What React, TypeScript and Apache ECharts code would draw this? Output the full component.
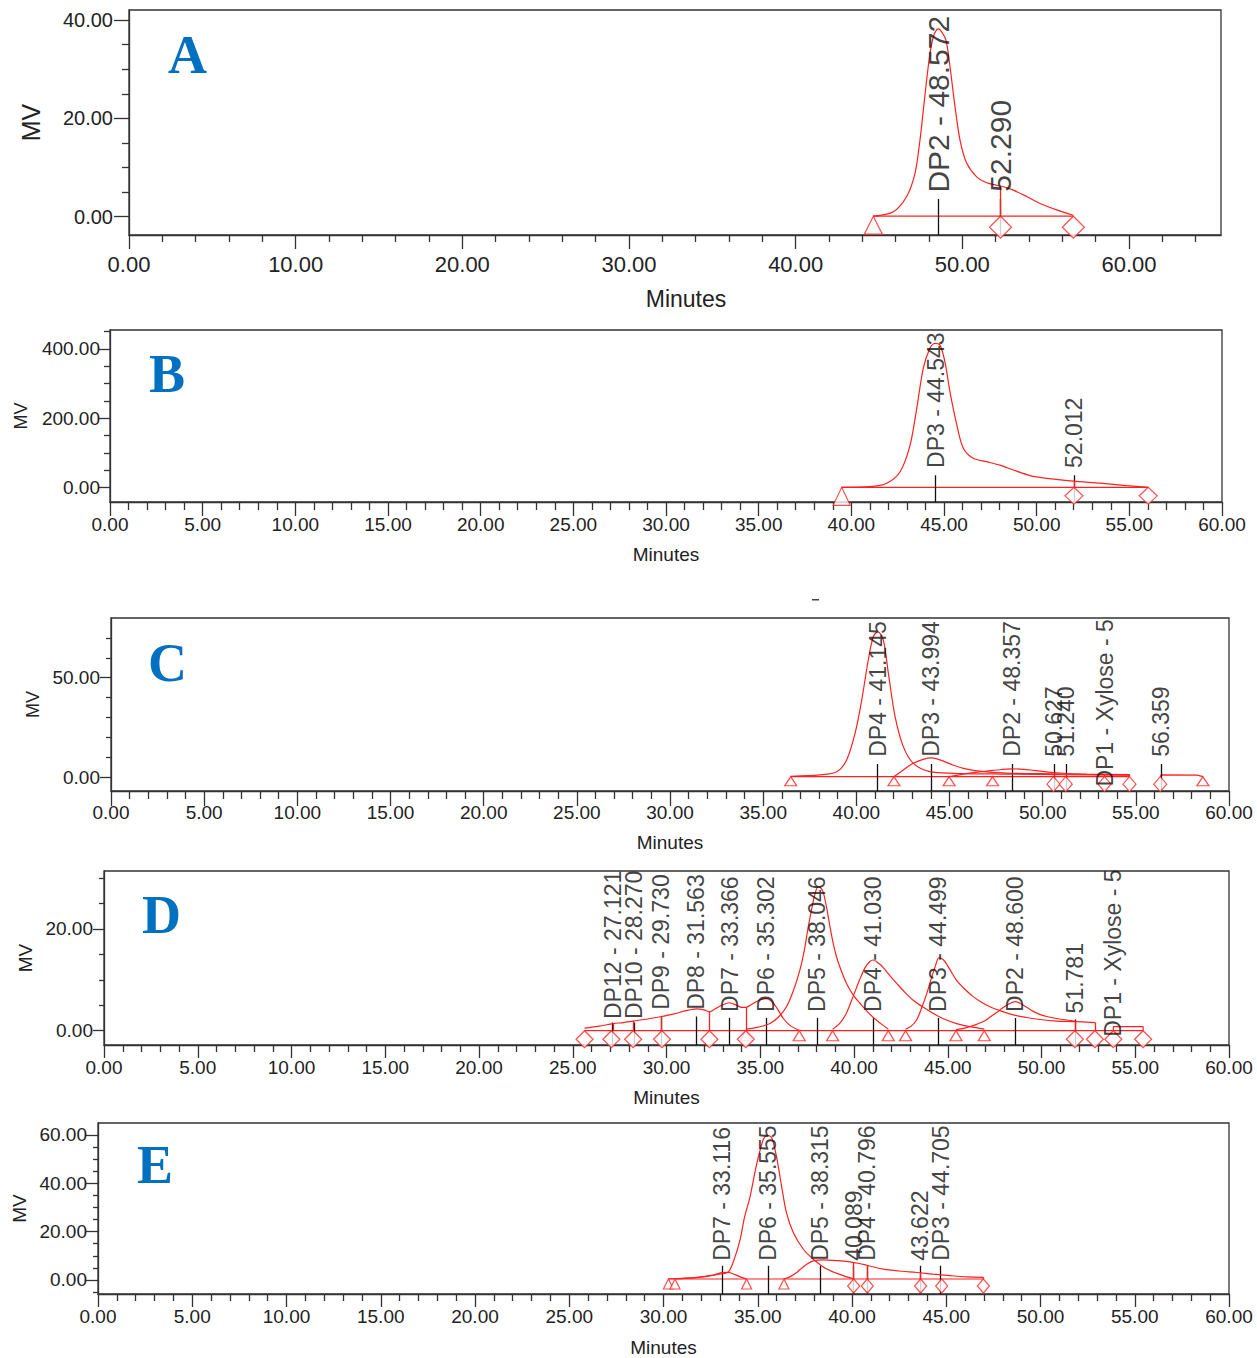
import React, { useEffect, useRef } from 'react';
import * as echarts from 'echarts';

type Pt = [number, number];

const RED = '#ff2020';
const AXIS = '#333333';
const TXT = '#222222';
const SANS = 'Liberation Sans';

// ---------------- Panel A ----------------
const A_xMajor = [0, 10, 20, 30, 40, 50, 60];
const A_yMajor = [0, 20, 40];
const A_yMinor = [5, 10, 15, 25, 30, 35];
const A_trace: Pt[] = [[44.66, 0.1], [45.86, 1.0], [46.66, 4.1], [47.16, 8.8], [47.46, 15.6], [47.66, 21.7], [47.86, 27.8], [48.06, 33.2], [48.26, 36.6], [48.45, 38.0], [48.57, 38.2], [48.76, 37.6], [49.02, 35.9], [49.26, 30.5], [49.56, 22.4], [49.86, 15.6], [50.26, 10.9], [50.86, 8.1], [51.46, 6.9], [52.06, 6.4], [52.46, 6.1], [53.06, 5.4], [53.86, 4.1], [54.66, 2.7], [55.66, 1.4], [56.66, 0.3]];
const A_baseline: Pt[] = [[44.66, 0.1], [56.66, 0.1]];
const A_triangles = [44.66];
const A_diamonds = [52.29, 56.66];
const A_dropX = [52.29];
const A_dropTop = [6.1];
const A_peakX = [48.572, 52.29];
const A_peakName = ['DP2 - 48.572', '52.290'];
const A_peakLabelY = [4.9, 5.1];
const A_peakTickTop = [3.6, 3.6];

// ---------------- Panel B ----------------
const B_xMajor = [0, 5, 10, 15, 20, 25, 30, 35, 40, 45, 50, 55, 60];
const B_yMajor = [0, 200, 400];
const B_yMinor = [50, 100, 150, 250, 300, 350, 450];
const B_trace: Pt[] = [[39.48, 1.2], [41.01, 2.9], [41.91, 12.7], [42.63, 46], [43.17, 123], [43.53, 229], [43.88, 344], [44.24, 402], [44.51, 416], [44.78, 411], [45.05, 363], [45.32, 277], [45.69, 181], [46.04, 114], [46.58, 85], [47.3, 75], [48.02, 65], [48.74, 51], [49.64, 35], [50.54, 27], [51.98, 19], [53.42, 13], [54.86, 6], [56.02, 1.2]];
const B_baseline: Pt[] = [[39.48, 1.2], [56.02, 1.2]];
const B_triangles = [39.48];
const B_diamonds = [52.012, 56.02];
const B_dropX = [52.012];
const B_dropTop = [19];
const B_peakX = [44.543, 52.012];
const B_peakName = ['DP3 - 44.543', '52.012'];
const B_peakLabelY = [57, 57];
const B_peakTickTop = [36, 36];

// ---------------- Panel C ----------------
const C_xMajor = B_xMajor;
const C_yMajor = [0, 50];
const C_yMinor = [10, 20, 30, 40, 60, 70];
const C_dp4: Pt[] = [[36.48, 0.5], [38.05, 1.2], [38.95, 2.8], [39.48, 8.7], [39.93, 22], [40.29, 38.8], [40.64, 58.9], [40.91, 70.6], [41.16, 73.1], [41.45, 68.9], [41.72, 52.2], [42.08, 30.4], [42.52, 15.4], [43.06, 7.0], [43.95, 2.8], [45.2, 2.0], [47.9, 1.6], [51.0, 1.3], [54.66, 1.1]];
const C_dp3: Pt[] = [[42.02, 0.3], [42.52, 3.7], [43.06, 7.0], [43.59, 9.0], [44.04, 9.7], [44.49, 8.7], [45.03, 6.7], [45.74, 4.5], [46.82, 2.8], [48.25, 2.0], [50.57, 1.7], [52.5, 1.4], [54.66, 1.2]];
const C_dp2: Pt[] = [[44.98, 0.3], [45.74, 1.6], [46.5, 2.6], [47.17, 3.3], [47.8, 3.9], [48.34, 4.2], [49.0, 4.0], [49.5, 3.5], [50.57, 2.4], [51.3, 1.9], [52.36, 1.6], [54.66, 1.3]];
const C_baseline: Pt[] = [[36.48, 0.3], [54.66, 0.3]];
const C_seg56: Pt[] = [[56.31, 0.3], [56.36, 1.2], [58.3, 1.1], [58.6, 0.3]];
const C_triangles = [36.48, 42.02, 44.98, 47.31, 58.6];
const C_diamonds = [50.58, 51.24, 53.32, 54.66, 56.31];
const C_dropX = [50.627, 51.24, 53.32, 54.66];
const C_dropTop = [1.9, 1.7, 1.4, 1.2];
const C_peakX = [41.145, 43.994, 48.357, 50.627, 51.24, 53.32, 56.359];
const C_peakName = ['DP4 - 41.145', 'DP3 - 43.994', 'DP2 - 48.357', '50.627', '51.240', 'DP1 - Xylose - 5', '56.359'];
const C_peakLabelY = [10.3, 10.3, 10.3, 10.3, 10.3, -4.7, 10.3];
const C_peakTickTop = [6.7, 6.7, 6.7, 6.7, 6.7, null, 6.7];

// ---------------- Panel D ----------------
const D_xMajor = B_xMajor;
const D_yMajor = [0, 20];
const D_yMinor = [5, 10, 15, 25, 30];
const D_trace: Pt[] = [[25.63, 0.5], [26.4, 0.9], [27.16, 1.4], [27.7, 1.6], [28.23, 1.9], [29.0, 2.3], [29.74, 2.8], [30.4, 3.3], [31.0, 3.9], [31.6, 4.3], [32.0, 4.1], [32.28, 3.7], [32.6, 4.3], [32.95, 5.0], [33.35, 5.5], [33.74, 5.0], [34.0, 4.6], [34.24, 4.6], [34.6, 5.3], [34.95, 6.0], [35.31, 6.3], [35.6, 5.8], [35.9, 4.4], [36.23, 2.4], [36.6, 1.0], [37.08, 0.1]];
const D_dp5: Pt[] = [[34.24, 0.3], [34.9, 0.7], [35.52, 1.4], [36.0, 2.8], [36.4, 4.7], [36.8, 8.2], [37.12, 12], [37.35, 15.8], [37.56, 20.4], [37.8, 25], [37.95, 27.3], [38.08, 28.3], [38.2, 28.2], [38.36, 27.2], [38.55, 24], [38.72, 20.4], [38.9, 17], [39.07, 14.5], [39.3, 12], [39.6, 9.3], [40.0, 6.8], [40.32, 5.4], [40.7, 3.8], [41.03, 2.6], [41.5, 1.2], [41.83, 0.3]];
const D_dp4: Pt[] = [[38.86, 0.3], [39.25, 1.5], [39.6, 3.5], [39.96, 6.8], [40.3, 10], [40.59, 12.4], [40.85, 13.6], [41.03, 13.9], [41.3, 13.3], [41.56, 12.4], [41.9, 10.9], [42.28, 9.3], [42.7, 7.6], [43.16, 6.0], [43.7, 4.6], [44.23, 3.4], [44.8, 2.3], [45.47, 1.4], [46.2, 0.8], [46.95, 0.3]];
const D_dp3: Pt[] = [[42.75, 0.3], [43.05, 0.9], [43.34, 2.1], [43.6, 4.4], [43.88, 7.3], [44.1, 10], [44.32, 12.5], [44.53, 14.3], [44.75, 14], [44.94, 13.1], [45.2, 11.5], [45.47, 9.9], [45.9, 8.2], [46.36, 6.7], [46.8, 5.6], [47.25, 4.7], [47.9, 3.8], [48.5, 3.1], [49.2, 2.6], [49.92, 2.2], [50.8, 1.9], [51.7, 1.8], [52.85, 1.6]];
const D_dp2: Pt[] = [[45.44, 0.2], [46.0, 0.6], [46.5, 1.2], [46.95, 1.9], [47.3, 2.8], [47.61, 3.6], [47.9, 4.4], [48.14, 5.0], [48.4, 5.5], [48.6, 5.7], [48.8, 5.5], [49.03, 5.0], [49.3, 4.4], [49.56, 3.8], [49.9, 3.2], [50.28, 2.8], [50.8, 2.4], [51.34, 2.1], [51.78, 1.9]];
const D_baseline: Pt[] = [[25.63, 0], [55.42, 0]];
const D_segDP1: Pt[] = [[53.83, 0], [53.83, 0.8], [55.42, 0.8], [55.42, 0]];
const D_triangles = [34.24, 37.08, 38.86, 41.83, 42.75, 45.44, 46.95];
const D_diamonds = [25.63, 27.06, 28.22, 29.76, 32.29, 34.23, 51.78, 52.85, 53.83, 55.42];
const D_dropX = [27.16, 28.23, 29.74, 32.28, 34.24, 51.78, 52.85];
const D_dropTop = [1.4, 1.9, 2.8, 3.7, 4.6, 1.9, 1.6];
const D_peakX = [27.121, 28.27, 29.73, 31.563, 33.366, 35.302, 38.046, 41.03, 44.499, 48.6, 51.781, 53.83];
const D_peakName = ['DP12 - 27.121', 'DP10 - 28.270', 'DP9 - 29.730', 'DP8 - 31.563', 'DP7 - 33.366', 'DP6 - 35.302', 'DP5 - 38.046', 'DP4 - 41.030', 'DP3 - 44.499', 'DP2 - 48.600', '51.781', 'DP1 - Xylose - 5'];
const D_peakLabelY = [2.3, 2.3, 4.1, 4.1, 3.7, 3.7, 3.7, 3.7, 3.7, 3.7, 3.4, -1.2];
const D_peakTickTop = [1.6, 1.6, 2.8, 2.8, 2.5, 2.5, 2.5, 2.5, 2.5, 2.5, 2.2, null];

// ---------------- Panel E ----------------
const E_xMajor = B_xMajor;
const E_yMajor = [0, 20, 40, 60];
const E_yMinor = [-5, 5, 10, 15, 25, 30, 35, 45, 50, 55];
const E_dp7: Pt[] = [[30.26, 0.5], [31.0, 0.7], [31.9, 1.1], [32.6, 2.0], [33.09, 3.0], [33.44, 3.1], [33.8, 2.2], [34.1, 1.2], [34.41, 0.4]];
const E_dp6: Pt[] = [[30.61, 0.5], [31.5, 0.9], [32.4, 1.6], [33.0, 2.5], [33.44, 3.3], [33.75, 8.5], [34.06, 16.6], [34.3, 26], [34.59, 34.4], [34.94, 47.8], [35.29, 58], [35.51, 59.8], [35.74, 58.8], [36.0, 50.8], [36.27, 38.5], [36.53, 27.6], [36.89, 19.5], [37.42, 12.7], [37.95, 8.6], [38.66, 4.5], [39.54, 1.8], [40.1, 0.4]];
const E_dp5: Pt[] = [[36.39, 0.4], [36.75, 1.5], [37.07, 3.1], [37.35, 5], [37.6, 6.5], [37.95, 7.9], [38.48, 8.3], [39.2, 8.0], [39.89, 7.5], [40.4, 6.8], [40.78, 6.1], [41.66, 4.5], [42.5, 3.7], [43.43, 3.1], [44.3, 2.4], [45.2, 1.8], [46.1, 1.3], [46.97, 1.1]];
const E_baseline: Pt[] = [[30.26, 0.4], [46.97, 0.4]];
const E_triangles = [30.26, 30.61, 34.41, 36.39];
const E_diamonds = [40.09, 40.81, 43.64, 44.76, 46.97];
const E_dropX = [40.09, 40.81, 43.64, 46.97];
const E_dropTop = [7.3, 6.0, 3.0, 1.1];
const E_peakX = [33.116, 35.555, 38.315, 40.089, 40.796, 43.622, 44.705];
const E_peakName = ['DP7 - 33.116', 'DP6 - 35.555', 'DP5 - 38.315', '40.089', 'DP4 - 40.796', '43.622', 'DP3 - 44.705'];
const E_peakLabelY = [7.9, 7.9, 7.9, 7.9, 7.9, 7.9, 7.9];
const E_peakTickTop = [5.9, 5.9, 5.9, 5.9, 5.9, 5.9, 5.9];

const PANEL_LETTERS = ['A', 'B', 'C', 'D', 'E'];

function minorTicks(max: number, step: number, major: number): number[] {
  const out: number[] = [];
  for (let k = 1; k * step <= max + 1e-9; k++) {
    const v = +(k * step).toFixed(4);
    if (Math.abs(v / major - Math.round(v / major)) > 1e-6) out.push(v);
  }
  return out;
}

interface Panel {
  box: [number, number, number, number];
  x: [number, number];
  y: [number, number];
  xMajor: number[]; xMinor: number[]; yMajor: number[]; yMinor: number[];
  xTick: [number, number]; yTick: [number, number];
  xFont: number; yFont: number; xMargin: number; yMargin: number;
  xNameFont: number; xNameGap: number; xNamePad: number[];
  yNameFont: number; yNameGap: number;
  peakFont: number;
  triSize: [number, number]; diaSize: [number, number];
  base: number;
  curves: Pt[][]; segs: Pt[][];
  tri: number[]; dia: number[];
  dropX: number[]; dropTop: number[];
  peakX: number[]; peakName: string[]; peakLabelY: number[]; peakTickTop: (number | null)[];
  letter: [number, number];
}

const PANELS: Panel[] = [
  {
    box: [129, 10, 1092, 225], x: [0, 65.52], y: [-3.72, 42.04],
    xMajor: A_xMajor, xMinor: minorTicks(65.52, 2, 10), yMajor: A_yMajor, yMinor: A_yMinor,
    xTick: [14, 7], yTick: [15, 7], xFont: 22, yFont: 20, xMargin: 18, yMargin: 16,
    xNameFont: 23, xNameGap: 52, xNamePad: [0, 0, 0, 22], yNameFont: 25, yNameGap: 86,
    peakFont: 30, triSize: [18, 18], diaSize: [22, 22], base: 0.1,
    curves: [A_trace], segs: [A_baseline], tri: A_triangles, dia: A_diamonds,
    dropX: A_dropX, dropTop: A_dropTop,
    peakX: A_peakX, peakName: A_peakName, peakLabelY: A_peakLabelY, peakTickTop: A_peakTickTop,
    letter: [168, 55],
  },
  {
    box: [110, 330, 1112, 172], x: [0, 60], y: [-41.2, 454.7],
    xMajor: B_xMajor, xMinor: minorTicks(60, 1, 5), yMajor: B_yMajor, yMinor: B_yMinor,
    xTick: [14, 8], yTick: [11, 6], xFont: 19, yFont: 19, xMargin: 13, yMargin: 10,
    xNameFont: 19, xNameGap: 43, xNamePad: [0, 0, 0, 0], yNameFont: 18, yNameGap: 80,
    peakFont: 23, triSize: [17, 18], diaSize: [18, 17], base: 1.2,
    curves: [B_trace], segs: [B_baseline], tri: B_triangles, dia: B_diamonds,
    dropX: B_dropX, dropTop: B_dropTop,
    peakX: B_peakX, peakName: B_peakName, peakLabelY: B_peakLabelY, peakTickTop: B_peakTickTop,
    letter: [149, 374],
  },
  {
    box: [111, 618, 1118, 173], x: [0, 60], y: [-6.9, 80.0],
    xMajor: C_xMajor, xMinor: minorTicks(60, 1, 5), yMajor: C_yMajor, yMinor: C_yMinor,
    xTick: [15, 8], yTick: [11, 5], xFont: 19, yFont: 19, xMargin: 12, yMargin: 11,
    xNameFont: 19, xNameGap: 42, xNamePad: [0, 0, 0, 0], yNameFont: 18, yNameGap: 68,
    peakFont: 23, triSize: [12, 9], diaSize: [13, 15], base: 0.3,
    curves: [C_dp4, C_dp3, C_dp2], segs: [C_baseline, C_seg56], tri: C_triangles, dia: C_diamonds,
    dropX: C_dropX, dropTop: C_dropTop,
    peakX: C_peakX, peakName: C_peakName, peakLabelY: C_peakLabelY, peakTickTop: C_peakTickTop,
    letter: [148, 663],
  },
  {
    box: [104, 871, 1125, 174], x: [0, 60], y: [-2.81, 31.4],
    xMajor: D_xMajor, xMinor: minorTicks(60, 1, 5), yMajor: D_yMajor, yMinor: D_yMinor,
    xTick: [13, 7], yTick: [11, 5], xFont: 19, yFont: 19, xMargin: 13, yMargin: 11,
    xNameFont: 19, xNameGap: 43, xNamePad: [0, 0, 0, 0], yNameFont: 19, yNameGap: 68,
    peakFont: 23, triSize: [12, 10], diaSize: [17, 17], base: 0,
    curves: [D_trace, D_dp5, D_dp4, D_dp3, D_dp2], segs: [D_baseline, D_segDP1], tri: D_triangles, dia: D_diamonds,
    dropX: D_dropX, dropTop: D_dropTop,
    peakX: D_peakX, peakName: D_peakName, peakLabelY: D_peakLabelY, peakTickTop: D_peakTickTop,
    letter: [142, 915],
  },
  {
    box: [98, 1123, 1131, 174], x: [0, 60], y: [-5.8, 64.9],
    xMajor: E_xMajor, xMinor: minorTicks(60, 1, 5), yMajor: E_yMajor, yMinor: E_yMinor,
    xTick: [13, 7], yTick: [12, 5], xFont: 19, yFont: 19, xMargin: 13, yMargin: 11,
    xNameFont: 19, xNameGap: 44, xNamePad: [0, 0, 0, 0], yNameFont: 19, yNameGap: 69,
    peakFont: 23, triSize: [10, 10], diaSize: [12, 14], base: 0.4,
    curves: [E_dp7, E_dp6, E_dp5], segs: [E_baseline], tri: E_triangles, dia: E_diamonds,
    dropX: E_dropX, dropTop: E_dropTop,
    peakX: E_peakX, peakName: E_peakName, peakLabelY: E_peakLabelY, peakTickTop: E_peakTickTop,
    letter: [137, 1165],
  },
];

function buildOption(): any {
  const grid: any[] = [];
  const xAxis: any[] = [];
  const yAxis: any[] = [];
  const series: any[] = [];
  const fmt = (v: number) => v.toFixed(2);

  PANELS.forEach((p, i) => {
    grid.push({
      left: p.box[0], top: p.box[1], width: p.box[2], height: p.box[3],
      show: true, borderColor: AXIS, borderWidth: 1.3, backgroundColor: 'transparent',
    });
    const tickStyle = { color: AXIS, width: 1.3 };
    xAxis.push({
      type: 'value', gridIndex: i, min: p.x[0], max: p.x[1], position: 'bottom',
      axisLine: { show: true, onZero: false, lineStyle: { color: AXIS, width: 1.3 } },
      axisTick: { show: true, customValues: p.xMajor, length: p.xTick[0], lineStyle: tickStyle },
      axisLabel: { show: true, customValues: p.xMajor, formatter: fmt, fontSize: p.xFont, color: TXT, fontFamily: SANS, margin: p.xMargin },
      splitLine: { show: false },
      name: 'Minutes', nameLocation: 'middle', nameGap: p.xNameGap,
      nameTextStyle: { fontSize: p.xNameFont, color: TXT, fontFamily: SANS, padding: p.xNamePad },
    });
    xAxis.push({
      type: 'value', gridIndex: i, min: p.x[0], max: p.x[1], position: 'bottom',
      axisLine: { show: false, onZero: false },
      axisTick: { show: true, customValues: p.xMinor, length: p.xTick[1], lineStyle: tickStyle },
      axisLabel: { show: false }, splitLine: { show: false },
    });
    yAxis.push({
      type: 'value', gridIndex: i, min: p.y[0], max: p.y[1], position: 'left',
      axisLine: { show: true, onZero: false, lineStyle: { color: AXIS, width: 1.3 } },
      axisTick: { show: true, customValues: p.yMajor, length: p.yTick[0], lineStyle: tickStyle },
      axisLabel: { show: true, customValues: p.yMajor, formatter: fmt, fontSize: p.yFont, color: TXT, fontFamily: SANS, margin: p.yMargin },
      splitLine: { show: false },
      name: 'MV', nameLocation: 'middle', nameGap: p.yNameGap,
      nameTextStyle: { fontSize: p.yNameFont, color: TXT, fontFamily: SANS },
    });
    yAxis.push({
      type: 'value', gridIndex: i, min: p.y[0], max: p.y[1], position: 'left',
      axisLine: { show: false, onZero: false },
      axisTick: { show: true, customValues: p.yMinor, length: p.yTick[1], lineStyle: tickStyle },
      axisLabel: { show: false }, splitLine: { show: false },
    });

    const ax = { xAxisIndex: 2 * i, yAxisIndex: 2 * i };

    p.segs.forEach((s) => series.push({
      type: 'line', ...ax, data: s, showSymbol: false, symbol: 'none', smooth: false,
      lineStyle: { color: RED, width: 1.2 }, silent: true, z: 2,
    }));
    p.curves.forEach((c) => series.push({
      type: 'line', ...ax, data: c, showSymbol: false, symbol: 'none', smooth: 0.3,
      lineStyle: { color: RED, width: 1.2 }, silent: true, z: 3,
    }));
    // black peak ticks
    series.push({
      type: 'lines', coordinateSystem: 'cartesian2d', ...ax, silent: true, z: 3,
      lineStyle: { color: '#111', width: 1.3, opacity: 1 },
      data: p.peakX.map((x, k) => ({ coords: [[x, p.peakTickTop[k]], [x, p.y[0]]] }))
        .filter((_, k) => p.peakTickTop[k] !== null),
    });
    // red drop lines
    series.push({
      type: 'lines', coordinateSystem: 'cartesian2d', ...ax, silent: true, z: 4,
      lineStyle: { color: RED, width: 1.3, opacity: 1 },
      data: p.dropX.map((x, k) => ({ coords: [[x, p.dropTop[k]], [x, p.base]] })),
    });
    // markers
    series.push({
      type: 'scatter', ...ax, silent: true, z: 5, symbol: 'triangle', symbolSize: p.triSize,
      symbolOffset: [0, '50%'],
      itemStyle: { color: '#ffffff', borderColor: RED, borderWidth: 1.2 },
      data: p.tri.map((x) => [x, p.base]),
    });
    series.push({
      type: 'scatter', ...ax, silent: true, z: 5, symbol: 'diamond', symbolSize: p.diaSize,
      symbolOffset: [0, '50%'],
      itemStyle: { color: '#ffffff', borderColor: RED, borderWidth: 1.2 },
      data: p.dia.map((x) => [x, p.base]),
    });
    // peak labels
    series.push({
      type: 'scatter', ...ax, silent: true, z: 6, symbol: 'circle', symbolSize: 1,
      itemStyle: { color: 'rgba(0,0,0,0)' },
      label: {
        show: true, position: 'inside', rotate: 90, align: 'left', verticalAlign: 'middle',
        formatter: '{b}', fontSize: p.peakFont, color: '#111', fontFamily: SANS,
      },
      data: p.peakX.map((x, k) => ({ name: p.peakName[k], value: [x, p.peakLabelY[k]] })),
    });
  });

  const graphic: any[] = PANELS.map((p, i) => ({
    type: 'text', x: p.letter[0], y: p.letter[1], z: 100,
    style: {
      text: PANEL_LETTERS[i], fontSize: 54, fontWeight: 'bold', fontFamily: 'Liberation Serif',
      fill: '#0070C0', align: 'left', verticalAlign: 'middle',
    },
  }));
  graphic.push({ type: 'rect', shape: { x: 812, y: 599, width: 7, height: 1.5 }, style: { fill: '#444' }, z: 100 });

  return {
    animation: false,
    backgroundColor: '#ffffff',
    textStyle: { fontFamily: SANS },
    grid, xAxis, yAxis, series, graphic,
  };
}

export default function App() {
  const ref = useRef<HTMLDivElement>(null);
  useEffect(() => {
    if (!ref.current) return;
    const chart = echarts.init(ref.current, null, { renderer: 'svg' });
    chart.setOption(buildOption());
    return () => chart.dispose();
  }, []);
  return (
    <div
      ref={ref}
      style={{ position: 'absolute', left: 0, top: 0, width: 1257, height: 1358, background: '#fff' }}
    />
  );
}
